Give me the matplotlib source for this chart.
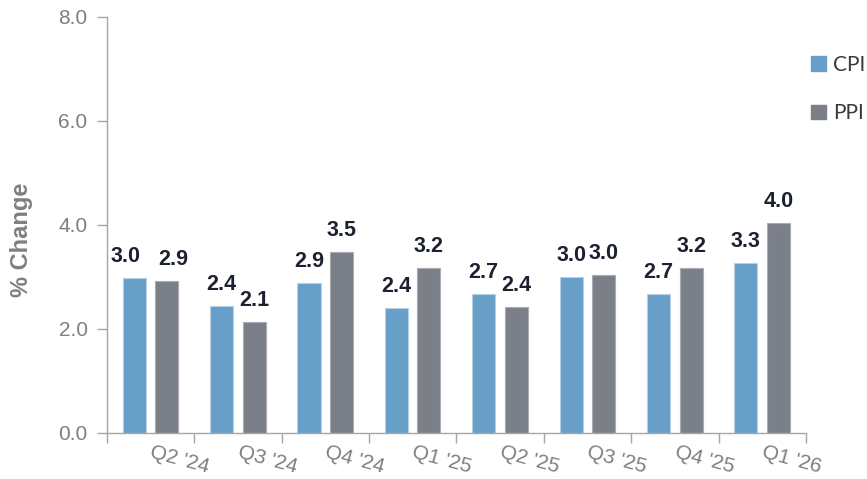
"""CPI vs PPI quarterly % change, grouped bars."""
import matplotlib
matplotlib.use("Agg")
import matplotlib.pyplot as plt
import numpy as np
from matplotlib.patches import Patch

quarters = ["Q2 '24", "Q3 '24", "Q4 '24", "Q1 '25", "Q2 '25", "Q3 '25", "Q4 '25", "Q1 '26"]
cpi = [2.97, 2.44, 2.88, 2.39, 2.66, 3.00, 2.67, 3.27]
ppi = [2.92, 2.13, 3.48, 3.16, 2.41, 3.04, 3.17, 4.03]
y_ticks = [0, 2, 4, 6, 8]

BLUE = "#679fc9"
GRAY = "#7b7f87"
AXIS = "#a6a6a6"
TEXT = "#7f7f7f"
LABEL = "#1c2130"

plt.rcParams["font.family"] = ["Liberation Sans", "DejaVu Sans"]

fig = plt.figure(figsize=(8.67, 4.79), dpi=100)
ax = fig.add_axes([0.1234, 0.0967, 0.8062, 0.8684])

x = np.arange(len(quarters))
w = 0.264
b1 = ax.bar(x + 0.312, cpi, w, color=BLUE, edgecolor="#b9cfe2", lw=0.8)
b2 = ax.bar(x + 0.685, ppi, w, color=GRAY, edgecolor="#a9acb2", lw=0.8)
lab1 = ax.bar_label(b1, fmt="{:.1f}", padding=8, fontsize=15.5,
                    fontweight="bold", color=LABEL)
lab2 = ax.bar_label(b2, fmt="{:.1f}", padding=8, fontsize=15.5,
                    fontweight="bold", color=LABEL)
# first pair of labels is nudged apart in the original
lab1[0].xyann = (-6, 8)
lab2[0].xyann = (4.5, 8)

ax.set_xlim(0, len(quarters))
ax.set_ylim(0, 8)
ax.set_yticks(y_ticks)
ax.set_yticklabels([f"{v:.1f}" for v in y_ticks])

# group boundaries get the tick marks, labels sit on minor ticks
ax.set_xticks(np.arange(len(quarters) + 1))
ax.set_xticklabels([])
ax.set_xticks(x + 0.836, minor=True)
ax.set_xticklabels(quarters, minor=True, rotation=-15, ha="center", va="top")
ax.tick_params(axis="x", which="minor", length=0, pad=7, labelsize=15, labelcolor=TEXT)
ax.tick_params(axis="x", which="major", length=7, color=AXIS, width=1)
ax.tick_params(axis="y", length=7, color=AXIS, width=1, pad=7,
               labelsize=15, labelcolor=TEXT)

for side in ("top", "right"):
    ax.spines[side].set_visible(False)
for side in ("left", "bottom"):
    ax.spines[side].set_color(AXIS)
    ax.spines[side].set_linewidth(1)

ax.set_ylabel("% Change", fontsize=17, fontweight="bold", color=TEXT)
ax.yaxis.set_label_coords(-0.106, 0.463)

handles = [Patch(color=BLUE, label="CPI"), Patch(color=GRAY, label="PPI")]
fig.legend(handles=handles, loc="upper left", bbox_to_anchor=(0.935, 0.885),
           frameon=False, borderpad=0, borderaxespad=0,
           handlelength=0.72, handleheight=0.72, handletextpad=0.34,
           labelspacing=1.35, prop={"family": "Lato", "size": 15},
           labelcolor="#3a3a3a")

fig.savefig("out.png", dpi=100)
plt.close(fig)
